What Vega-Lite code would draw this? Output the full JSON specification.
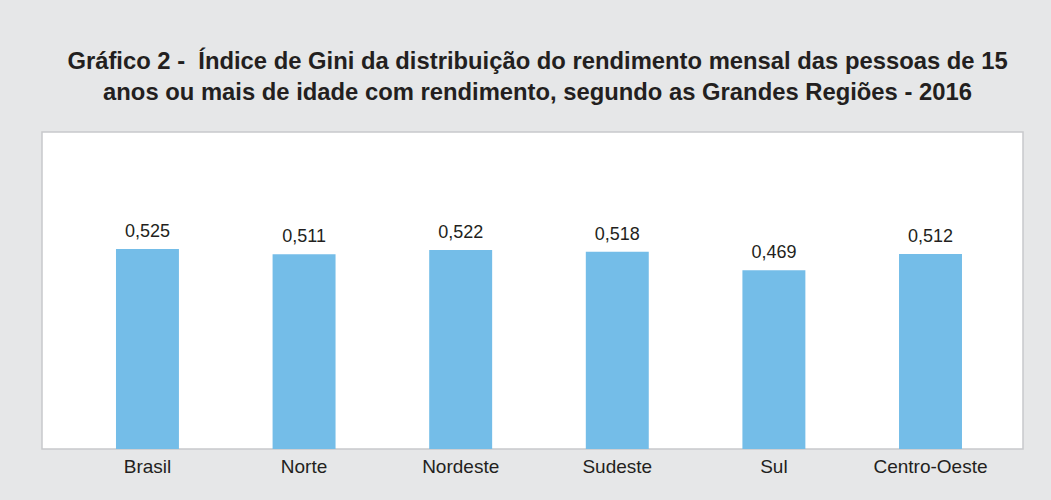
{
  "$schema": "https://vega.github.io/schema/vega-lite/v6.json",
  "autosize": {"type": "none"},
  "width": 981,
  "height": 317,
  "padding": {"left": 42, "top": 132, "right": 28, "bottom": 51},
  "background": "#e6e7e8",
  "title": {
    "text": ["Gráfico 2 - \u00a0Índice de Gini da distribuição do rendimento mensal das pessoas de 15", "anos ou mais de idade com rendimento, segundo as Grandes Regiões - 2016"],
    "font": "Liberation Sans",
    "fontSize": 23.8,
    "fontWeight": "bold",
    "color": "#231f20",
    "lineHeight": 31,
    "anchor": "middle",
    "frame": "group",
    "offset": 27,
    "dx": 5
  },
  "data": {
    "values": [
      {"regiao": "Brasil", "gini": 0.525, "rotulo": "0,525"},
      {"regiao": "Norte", "gini": 0.511, "rotulo": "0,511"},
      {"regiao": "Nordeste", "gini": 0.522, "rotulo": "0,522"},
      {"regiao": "Sudeste", "gini": 0.518, "rotulo": "0,518"},
      {"regiao": "Sul", "gini": 0.469, "rotulo": "0,469"},
      {"regiao": "Centro-Oeste", "gini": 0.512, "rotulo": "0,512"}
    ]
  },
  "encoding": {
    "x": {
      "field": "regiao",
      "type": "nominal",
      "sort": null,
      "scale": {"paddingInner": 0.598, "paddingOuter": 0.431, "align": 0.548},
      "axis": {
        "title": null,
        "labelAngle": 0,
        "labelFont": "Liberation Sans",
        "labelFontSize": 19,
        "labelColor": "#231f20",
        "labelPadding": 8,
        "ticks": false,
        "domain": false
      }
    },
    "y": {
      "field": "gini",
      "type": "quantitative",
      "scale": {"domain": [0, 0.832], "nice": false},
      "axis": null
    }
  },
  "layer": [
    {"mark": {"type": "bar", "color": "#74bde8"}},
    {
      "mark": {"type": "text", "baseline": "alphabetic", "dy": -12, "font": "Liberation Sans", "fontSize": 18, "color": "#231f20"},
      "encoding": {"text": {"field": "rotulo"}}
    }
  ],
  "config": {
    "view": {"fill": "white", "stroke": "#c8c9cb", "strokeWidth": 1.5}
  }
}
